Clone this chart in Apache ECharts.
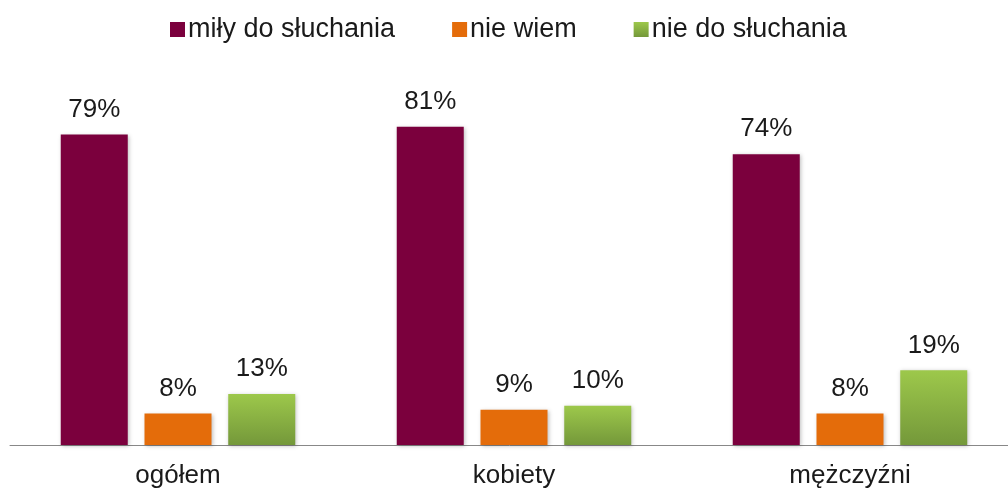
<!DOCTYPE html>
<html>
<head>
<meta charset="utf-8">
<script src="https://cdn.jsdelivr.net/npm/echarts@6/dist/echarts.min.js"></script>
<style>
  html, body { margin: 0; padding: 0; background: #fff; }
  #chart { width: 1008px; height: 491px; }
</style>
</head>
<body>
<div id="chart"></div>
<script>
const categories = ['ogółem', 'kobiety', 'mężczyźni']
const seriesNames = ['miły do słuchania', 'nie wiem', 'nie do słuchania']
const milyValues = [79, 81, 74]
const nieWiemValues = [8, 9, 8]
const nieDoValues = [13, 10, 19]

const font = 'Liberation Sans, Arial, sans-serif'
const green = new echarts.graphic.LinearGradient(0, 0, 0, 1, [
  { offset: 0, color: '#9dc84b' },
  { offset: 1, color: '#74983a' }
])
const colors = ['#7b003d', '#e46c0a', green]

function barSeries(name, data, color) {
  return {
    name,
    type: 'bar',
    data,
    barWidth: 67,
    barGap: '25%',
    itemStyle: {
      color,
      shadowBlur: 4,
      shadowColor: 'rgba(0,0,0,0.25)',
      shadowOffsetX: 1,
      shadowOffsetY: 1
    },
    label: {
      show: true,
      position: 'top',
      distance: 12,
      formatter: '{c}%',
      fontFamily: font,
      fontSize: 26,
      color: '#1a1a1a'
    }
  }
}

const chart = echarts.init(document.getElementById('chart'))
chart.setOption({
  animation: false,
  legend: {
    top: 16,
    left: 170,
    icon: 'rect',
    itemWidth: 15,
    itemHeight: 15,
    itemGap: 57,
    padding: 0,
    textStyle: { fontFamily: font, fontSize: 27, color: '#1a1a1a', padding: [0, 0, 0, -2] },
    data: seriesNames
  },
  grid: { left: 10, right: -10, top: 52, bottom: 46, containLabel: false, outerBoundsMode: 'none' },
  xAxis: {
    type: 'category',
    data: categories,
    axisLine: { lineStyle: { color: '#888', width: 1 } },
    axisTick: { show: false },
    axisLabel: { margin: 18, fontFamily: font, fontSize: 26, color: '#1a1a1a' }
  },
  yAxis: {
    type: 'value',
    min: 0,
    max: 100,
    show: false,
    splitLine: { show: false }
  },
  series: [
    barSeries(seriesNames[0], milyValues, colors[0]),
    barSeries(seriesNames[1], nieWiemValues, colors[1]),
    barSeries(seriesNames[2], nieDoValues, colors[2])
  ]
})
</script>
</body>
</html>
